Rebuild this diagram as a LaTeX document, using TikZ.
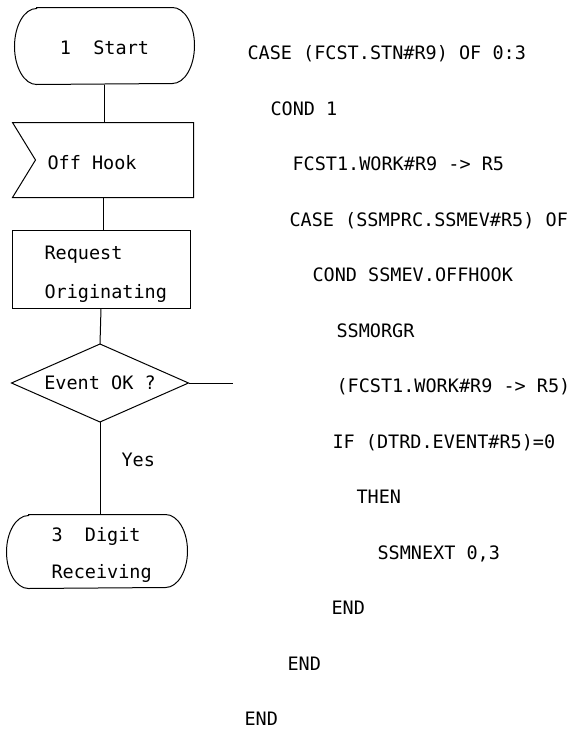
\documentclass[tikz,border=0pt]{standalone}
\usepackage{fontspec}
\newfontfamily\cfont{DejaVu Sans Mono}
\begin{document}
\begin{tikzpicture}[
  line width=1pt,
  box/.style={draw=none, inner sep=0pt},
  ftext/.style={inner sep=0pt, font=\cfont\fontsize{18.5pt}{20pt}\selectfont, text height=13.5pt, text depth=0pt},
  code/.style={anchor=west, inner sep=0pt, font=\cfont\fontsize{18.5pt}{20pt}\selectfont, text height=13.5pt, text depth=0pt}
]
\useasboundingbox (0,0) rectangle (571pt,-731pt);
\begin{scope}[x=1pt,y=1pt]
% Start terminal
\node[box, minimum width=179pt, minimum height=76pt] (start) at (104.5,-46) {};
\draw ([xshift=22pt]start.north west) -- ([xshift=-22pt]start.north east)
  arc[start angle=90, end angle=-90, x radius=22pt, y radius=38pt]
  -- ([xshift=22pt]start.south west)
  arc[start angle=270, end angle=90, x radius=22pt, y radius=38pt] -- cycle;
\node[ftext] (starttxt) at (104.5,-48) {1\ \ Start};
% Off Hook flag
\node[box, minimum width=180pt, minimum height=74pt] (hook) at (103,-160) {};
\draw (hook.north west) -- (hook.north east) -- (hook.south east) -- (hook.south west)
  -- ([xshift=23pt]hook.west) -- cycle;
\node[ftext, anchor=west] (hooktxt) at (47,-163) {Off Hook};
% Request Originating
\node[box, draw, minimum width=178pt, minimum height=78pt] (req) at (101,-269) {};
\node[ftext, anchor=west] (req1) at (44,-253) {Request};
\node[ftext, anchor=west] (req2) at (44,-292) {Originating};
% Decision
\node[box, minimum width=176pt, minimum height=77pt] (ev) at (100,-383) {};
\draw (ev.west) -- (ev.north) -- (ev.east) -- (ev.south) -- cycle;
\node[ftext] (evtxt) at (100,-383) {Event OK ?};
\coordinate (evout) at (233,-383);
% Digit Receiving terminal
\node[box, minimum width=180pt, minimum height=73pt] (dig) at (97,-551.5) {};
\draw ([xshift=22pt]dig.north west) -- ([xshift=-22pt]dig.north east)
  arc[start angle=90, end angle=-90, x radius=22pt, y radius=36.5pt]
  -- ([xshift=22pt]dig.south west)
  arc[start angle=270, end angle=90, x radius=22pt, y radius=36.5pt] -- cycle;
\node[ftext, anchor=west] (dig1) at (51,-535) {3\ \ Digit};
\node[ftext, anchor=west] (dig2) at (51,-572) {Receiving};
\node[ftext, anchor=west] (yes) at (121,-460) {Yes};
% connectors
\draw (start.south) -- (start.south |- hook.north);
\draw (hook.south) -- (hook.south |- req.north);
\draw (req.south) -- (ev.north);
\draw (ev.east) -- (evout);
\draw (ev.south) -- (ev.south |- dig.north);
% code
\node[code] (c1) at (247,-53) {CASE (FCST.STN\#R9) OF 0:3};
\node[code] (c2) at (270,-108.5) {COND 1};
\node[code] (c3) at (292,-164) {FCST1.WORK\#R9 -> R5};
\node[code] (c4) at (289,-219.5) {CASE (SSMPRC.SSMEV\#R5) OF};
\node[code] (c5) at (312,-275) {COND SSMEV.OFFHOOK};
\node[code] (c6) at (336,-330.5) {SSMORGR};
\node[code] (c7) at (336,-386) {(FCST1.WORK\#R9 -> R5)};
\node[code] (c8) at (332,-441.5) {IF (DTRD.EVENT\#R5)=0};
\node[code] (c9) at (356,-497) {THEN};
\node[code] (c10) at (377,-552.5) {SSMNEXT 0,3};
\node[code] (c11) at (331,-608) {END};
\node[code] (c12) at (287,-663.5) {END};
\node[code] (c13) at (244,-719) {END};
\end{scope}
\end{tikzpicture}
\end{document}
